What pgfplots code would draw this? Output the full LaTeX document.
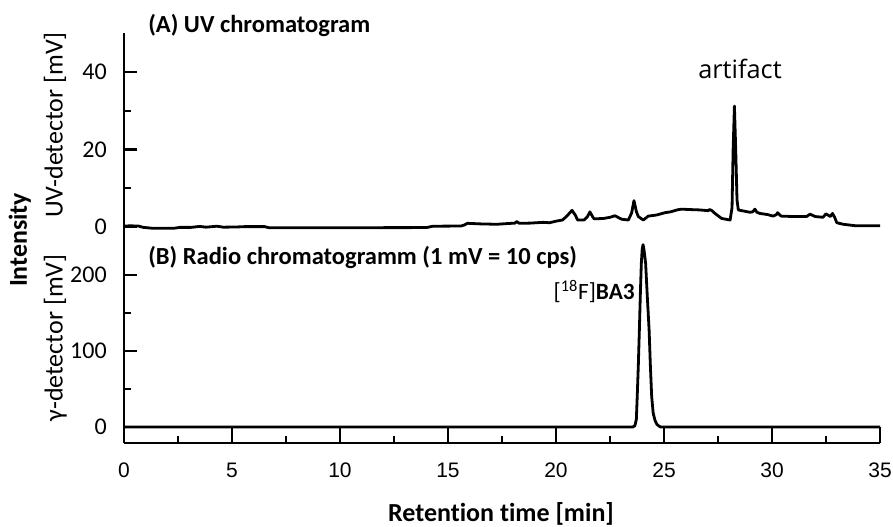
\documentclass[border=0pt]{standalone}
\usepackage{fontspec}
\setmainfont{Carlito}[Ligatures=NoCommon]
\newfontfamily\arialfont{Liberation Sans}
\newfontfamily\notefont{Open Sans}[Ligatures=NoCommon]
\usepackage{pgfplots}
\pgfplotsset{compat=1.18}

% UV trace (retention time [min], signal [mV])
\pgfplotstableread{
t v
0 0.25
0.3 0.3
0.66 0.25
0.9 -0.1
1.36 -0.35
1.8 -0.3
2.28 -0.35
2.6 -0.1
3.1 -0.1
3.5 0.15
3.8 -0.05
4.3 0.2
4.6 -0.05
5.2 0.0
5.6 0.1
6.5 0.1
6.7 -0.17
9.0 -0.17
12.0 -0.17
14.0 -0.15
14.3 0.2
15.6 0.25
15.75 0.5
15.9 0.95
16.5 0.8
17.25 0.7
17.8 0.9
18.1 1.0
18.18 1.4
18.3 0.95
18.8 1.0
19.4 1.2
19.7 1.1
20.0 1.5
20.3 1.8
20.5 2.8
20.74 4.3
20.9 3.0
21.0 1.8
21.3 1.8
21.45 2.6
21.57 3.9
21.7 2.6
21.76 2.1
22.2 2.2
22.5 2.5
22.73 2.9
23.04 2.0
23.35 1.8
23.5 3.6
23.61 6.8
23.72 4.0
23.81 2.7
24.04 1.8
24.27 2.8
24.66 3.1
25.05 3.7
25.3 3.9
25.6 4.4
25.8 4.6
26.2 4.5
26.67 4.4
27.05 4.2
27.1 4.5
27.2 4.3
27.36 3.5
27.67 2.2
28.06 1.8
28.15 5
28.2 20
28.26 31.2
28.32 20
28.38 7
28.44 4.4
28.7 4.1
28.98 3.8
29.1 3.9
29.21 4.6
29.3 3.8
29.44 3.5
29.8 3.2
30.06 2.8
30.2 3.2
30.26 3.7
30.4 2.9
30.45 2.8
31.0 2.7
31.6 2.7
31.76 3.3
32.0 2.7
32.36 2.5
32.5 3.4
32.7 2.7
32.8 3.5
32.9 2.5
33.0 1.1
33.3 0.7
33.9 0.3
35 0.3
}\uvdata

% radio trace (retention time [min], signal [mV])
\pgfplotstableread{
t v
0 0
23.55 0
23.65 1.5
23.72 10
23.76 40
23.81 80
23.86 128
23.91 180
23.95 215
23.99 234
24.03 240
24.07 234
24.11 225
24.15 215
24.23 170
24.31 128
24.37 80
24.43 40
24.5 18
24.58 9
24.66 4
24.75 1.5
24.85 0
35 0
}\radiodata

\pgfplotsset{
  chrom/.style={
    scale only axis, width=567pt,
    xmin=0, xmax=35,
    tick align=inside,
    axis line style={line width=1.9pt},
    every tick/.style={black, line width=1.7pt},
    yticklabel style={font=\fontsize{18}{18}\selectfont, inner sep=0pt, xshift=-12.75pt},
    /pgf/number format/assume math mode=true,
    major tick length=9.75pt, minor tick length=5.25pt,
  },
  trace/.style={black, line width=2.1pt, line join=round, no marks},
}

\begin{document}
\begin{tikzpicture}
% lower panel: radio detector
\begin{axis}[chrom, at={(93pt,63pt)}, anchor=south west, height=158.25pt,
  ymin=-21.05, ymax=256.6,
  axis y line*=left, axis x line=none, xtick=\empty,
  ytick={0,100,200}, minor ytick={50,150}]
  \addplot[trace] table[x=t, y=v] {\radiodata};
  \draw[line width=1.9pt] (axis cs:35,-21.05) -- (axis cs:35,0);
\end{axis}
% time axis
\begin{axis}[chrom, at={(93pt,63pt)}, anchor=south west, height=158.25pt,
  ymin=-21.05, ymax=256.6,
  axis x line*=bottom, axis y line=none, ytick=\empty,
  xtick={0,5,...,35}, minor xtick={2.5,7.5,...,32.5},
  major tick length=12pt, minor tick length=5.25pt,
  xticklabel style={font=\arialfont\fontsize{15.75}{16}\selectfont, inner sep=0pt, yshift=-15pt}]
\end{axis}
% upper panel: UV detector
\begin{axis}[chrom, at={(93pt,221.25pt)}, anchor=south west, height=149.25pt,
  ymin=-1.29, ymax=50.06,
  axis y line*=left, axis x line=none, xtick=\empty,
  ytick={0,20,40}, minor ytick={10,30}]
  \addplot[trace] table[x=t, y=v] {\uvdata};
\end{axis}

% titles and annotations
\node[anchor=base west, inner sep=0pt, font=\bfseries\fontsize{18.4}{20}\selectfont]
  at (111pt,370.5pt) {(A) UV chromatogram};
\node[anchor=base west, inner sep=0pt, font=\bfseries\fontsize{18.4}{20}\selectfont]
  at (111pt,196.5pt) {(B) Radio chromatogramm (1 mV = 10 cps)};
\node[anchor=base, inner sep=0pt, font=\notefont\fontsize{19}{20}\selectfont]
  at (555pt,336pt) {artifact};
\node[anchor=base east, inner sep=0pt, font=\fontsize{17.5}{18}\selectfont]
  at (476.25pt,170.25pt) {[\textsuperscript{18}F]\textbf{BA3}};

% axis labels
\node[anchor=base, inner sep=0pt, font=\bfseries\fontsize{19.5}{20}\selectfont]
  at (375.75pt,4.2pt) {Retention time [min]};
\node[anchor=base, rotate=90, inner sep=0pt, font=\bfseries\fontsize{19.4}{20}\selectfont]
  at (20.25pt,215.25pt) {Intensity};
\node[anchor=base, rotate=90, inner sep=0pt, font=\fontsize{19.5}{20}\selectfont]
  at (47pt,301.5pt) {UV-detector [mV]};
\node[anchor=base, rotate=90, inner sep=0pt, font=\fontsize{19.5}{20}\selectfont]
  at (47pt,141.75pt) {γ-detector [mV]};

\pgfresetboundingbox
\useasboundingbox (0,0) rectangle (669.75pt,395.25pt);
\end{tikzpicture}
\end{document}
